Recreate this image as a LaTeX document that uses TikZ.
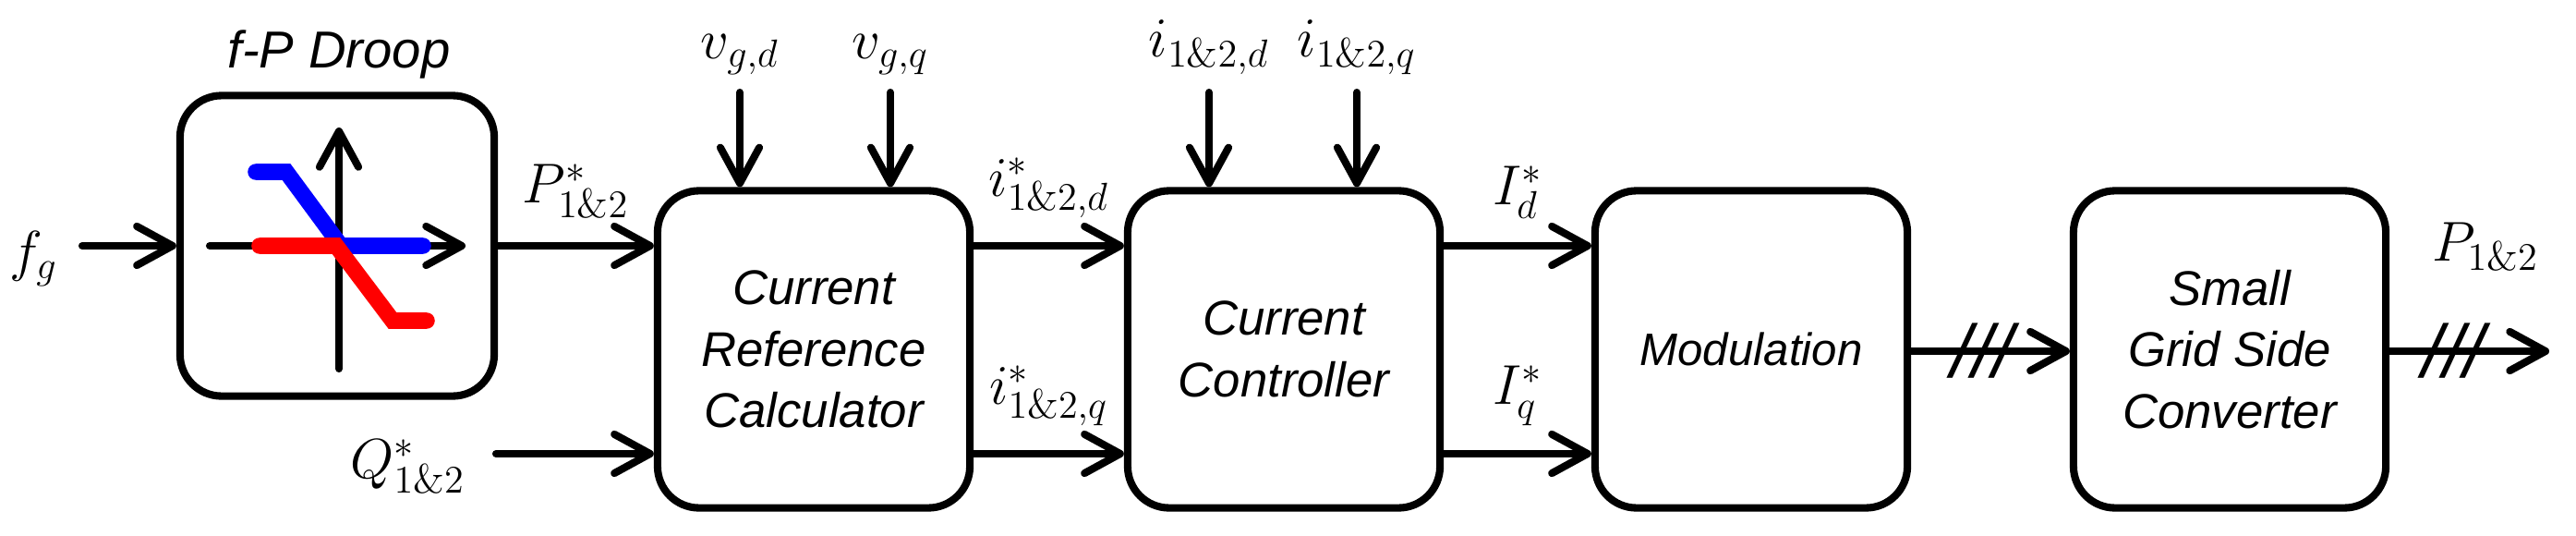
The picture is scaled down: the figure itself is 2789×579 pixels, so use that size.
\documentclass[tikz,border=0pt]{standalone}
\usepackage{fontspec}
\setsansfont{Liberation Sans}
\usetikzlibrary{arrows.meta, positioning, calc}
\tikzstyle{block} = [%
  rectangle,
  rounded corners=0.45cm,
  draw=black,
  line width=2.3pt,
  minimum width=3.38cm,
  minimum height=3.43cm,
  align=center,
  font=\sffamily\itshape\fontsize{15}{19}\selectfont
]
\begin{document}
\begin{tikzpicture}[%
  x=0.01cm, y=-0.01cm,
  >={Straight Barb[length=11pt,width=12pt,line width=2.3pt,round]},
  sig/.style={->, line width=2.3pt, line cap=round},
  lbl/.style={font=\fontsize{18}{20}\selectfont},
  bus/.style={font=\sffamily\itshape\fontsize{23}{24}\selectfont}
]
  \useasboundingbox (0,0) rectangle (2789,579);

  % Blocks
  \node[block,minimum width=3.40cm,minimum height=3.25cm] (droop) at (365,266) {};
  \node[block] (crc) at (881,378) {Current\\Reference\\Calculator};
  \node[block] (cc) at (1390,378) {Current\\Controller};
  \node[block] (mod) at (1896,378) {\fontsize{14}{18}\selectfont Modulation};
  \node[block] (sgsc) at (2414,378) {Small\\Grid Side\\Converter};
  \node[font=\sffamily\itshape\fontsize{16}{20}\selectfont] (title) at (367,59) {f-P Droop};

  % Droop characteristic
  \draw[->, line width=2.3pt, line cap=round] (227,266) -- (504,266);
  \draw[->, line width=2.3pt, line cap=round] (367,399) -- (367,138);
  \draw[blue, line width=5pt, line cap=round] (277,186) -- (310,186) -- (369,266) -- (458,266);
  \draw[red, line width=5pt, line cap=round] (281,266) -- (364,266) -- (425,347) -- (462,347);

  % Free ends
  \coordinate (fg) at (89,266);
  \coordinate (qin) at (537,491);
  \coordinate (vd) at (801,100);
  \coordinate (vq) at (964,100);
  \coordinate (id) at (1309,100);
  \coordinate (iq) at (1469,100);
  \coordinate (pout) at (2760,380);

  % Signals
  \draw[sig] (fg) -- (droop.west |- fg);
  \node[lbl,left=4pt of fg,yshift=-4pt] {$f_g$};
  \draw[sig] (droop.east |- fg) -- node[lbl,above=4pt] {$P^*_{1\&2}$} (crc.west |- fg);
  \draw[sig] (qin) -- (crc.west |- qin);
  \node[lbl,left=6pt of qin,yshift=-4pt] {$Q^*_{1\&2}$};
  \draw[sig] (vd) -- (crc.north -| vd);
  \draw[sig] (vq) -- (crc.north -| vq);
  \node[lbl,above=2pt of vd] {$v_{g,d}$};
  \node[lbl,above=2pt of vq] {$v_{g,q}$};
  \draw[sig] (crc.east |- fg) -- node[lbl,above=4pt] {$i^*_{1\&2,d}$} (cc.west |- fg);
  \draw[sig] (crc.east |- qin) -- node[lbl,above=4pt] {$i^*_{1\&2,q}$} (cc.west |- qin);
  \draw[sig] (id) -- (cc.north -| id);
  \draw[sig] (iq) -- (cc.north -| iq);
  \node[lbl,above=2pt of id] {$i_{1\&2,d}$};
  \node[lbl,above=2pt of iq] {$i_{1\&2,q}$};
  \draw[sig] (cc.east |- fg) -- node[lbl,above=4pt] {$I^*_d$} (mod.west |- fg);
  \draw[sig] (cc.east |- qin) -- node[lbl,above=4pt] {$I^*_q$} (mod.west |- qin);
  \draw[sig] (mod.east |- pout) -- node[bus,pos=0.45] {///} (sgsc.west |- pout);
  \draw[sig] (sgsc.east |- pout) -- node[bus,pos=0.4] {///} node[lbl,pos=0.6,above=20pt] {$P_{1\&2}$} (pout);
\end{tikzpicture}
\end{document}
